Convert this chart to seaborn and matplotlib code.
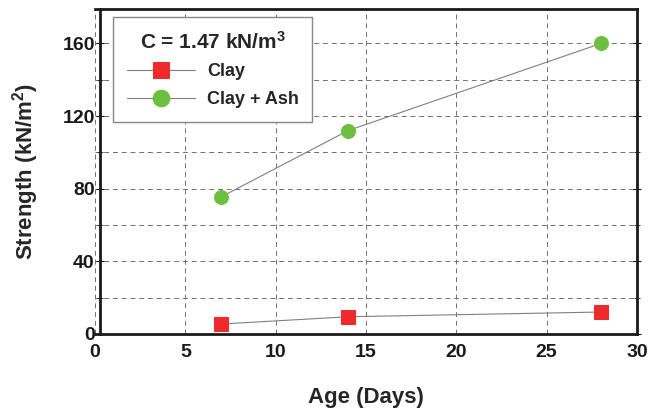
import pandas as pd
import matplotlib.pyplot as plt
import seaborn as sns
from matplotlib.ticker import MultipleLocator

# Data
age_days = [7, 14, 28]
clay_strength = [5.5, 9.5, 12.1]
clay_ash_strength = [75.6, 112, 160]

df = pd.DataFrame({
    'age': age_days * 2,
    'strength': clay_strength + clay_ash_strength,
    'mix': ['Clay'] * 3 + ['Clay + Ash'] * 3,
})

sns.set_style('ticks')
plt.rcParams['font.family'] = ['Liberation Sans', 'DejaVu Sans']
plt.rcParams['font.weight'] = 'bold'
plt.rcParams['mathtext.default'] = 'regular'

fig = plt.figure(figsize=(6.65, 4.12), dpi=100)
ax = fig.add_axes([95 / 665, 1 - 334 / 412, (637 - 95) / 665, (334 - 9) / 412])

styles = {
    'Clay': dict(marker='s', mfc='#EE2A2A', mec='#EE2A2A', ms=10),
    'Clay + Ash': dict(marker='o', mfc='#6CBF3F', mec='#6CBF3F', ms=10),
}
for mix, sub in df.groupby('mix'):
    sns.lineplot(data=sub, x='age', y='strength', ax=ax, color='#808080',
                 linewidth=0.8, label=mix, **styles[mix])

ax.set_xlim(0, 30)
ax.set_ylim(0, 179)
ax.xaxis.set_major_locator(MultipleLocator(5))
ax.yaxis.set_major_locator(MultipleLocator(40))
ax.yaxis.set_minor_locator(MultipleLocator(20))
ax.grid(True, which='both', linestyle=(0, (5, 4)), color='#707070', linewidth=0.7)

for s in ax.spines.values():
    s.set_linewidth(2)
    s.set_color('#1a1a1a')
ax.spines['left'].set_position(('data', 0.3))

ax.tick_params(axis='both', which='both', direction='inout', labelsize=14,
               right=True, colors='#1a1a1a')
ax.tick_params(axis='x', length=0, pad=7)
ax.tick_params(axis='y', which='major', length=6, pad=1)
ax.tick_params(axis='y', which='minor', length=5)
for lbl in ax.get_xticklabels() + ax.get_yticklabels():
    lbl.set_fontweight('bold')

ax.set_xlabel('Age (Days)', fontsize=16, fontweight='bold')
ax.set_ylabel('Strength (kN/m$^2$)', fontsize=16, fontweight='bold')
ax.xaxis.set_label_coords(0.5, (334 - 397) / 325, transform=ax.transAxes)
ax.yaxis.set_label_coords((26 - 95) / 542, 0.5, transform=ax.transAxes)
ax.xaxis.label.set_va('center')
ax.yaxis.label.set_va('center')

leg = ax.legend(title='C = 1.47 kN/m$^3$', loc='upper left',
                bbox_to_anchor=(113 / 665, 1 - 17 / 412), bbox_transform=fig.transFigure,
                borderaxespad=0, fontsize=13,
                title_fontproperties={'weight': 'bold', 'size': 15},
                handlelength=3.8, handletextpad=0.65, frameon=True, fancybox=False,
                borderpad=0.75, labelspacing=0.6, markerscale=1.2, framealpha=1)
leg.get_frame().set_edgecolor('#888888')
leg.get_frame().set_linewidth(1)
for t in leg.get_texts():
    t.set_fontweight('bold')

fig.savefig('out.png', dpi=100)
